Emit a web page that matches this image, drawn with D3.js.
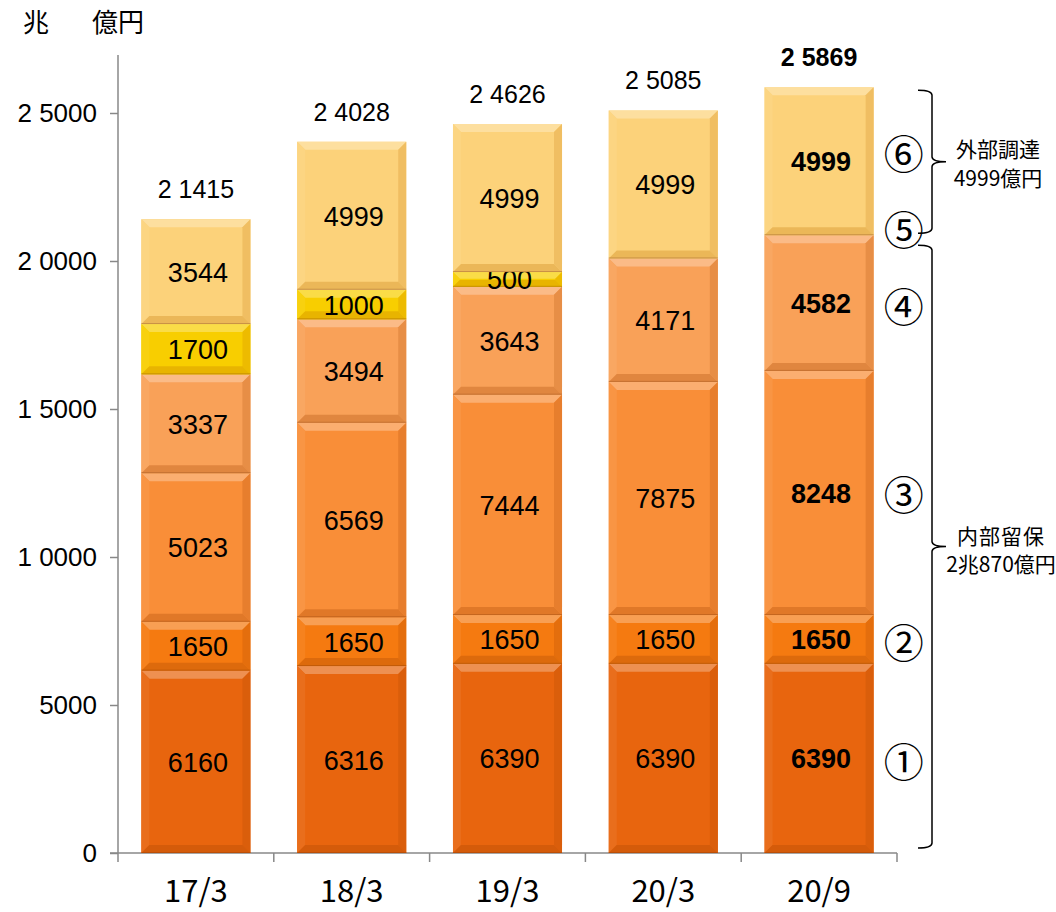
<!DOCTYPE html>
<html>
<head>
<meta charset="utf-8">
<script src="https://cdn.jsdelivr.net/npm/d3@7"></script>
<style>
  html, body { margin: 0; padding: 0; background: #fff; }
  svg { display: block; }
</style>
</head>
<body>
<svg id="chart" width="1056" height="912"></svg>
<script>
// Periods on the x axis
const categories = ["17/3", "18/3", "19/3", "20/3", "20/9"];
// Stacked components (億円), bottom to top: ① … ⑥
const s1 = [6160, 6316, 6390, 6390, 6390];
const s2 = [1650, 1650, 1650, 1650, 1650];
const s3 = [5023, 6569, 7444, 7875, 8248];
const s4 = [3337, 3494, 3643, 4171, 4582];
const s5 = [1700, 1000, 500, 0, 0];
const s6 = [3544, 4999, 4999, 4999, 4999];
// Stated totals above each column
const totals = [21415, 24028, 24626, 25085, 25869];
// Y axis ticks and their labels
const yTicks = [0, 5000, 10000, 15000, 20000, 25000];
const yTickLabels = ["0", "5000", "1 0000", "1 5000", "2 0000", "2 5000"];
const seriesMarks = ["①", "②", "③", "④", "⑤", "⑥"];
const seriesColors = ["#E8650E", "#F57A10", "#F98E38", "#F9A158", "#F8CE00", "#FCD27A"];

const series = [s1, s2, s3, s4, s5, s6];
const rows = categories.map((c, i) => {
  const r = { cat: c };
  series.forEach((s, k) => { r["k" + k] = s[i]; });
  return r;
});
const keys = series.map((s, k) => "k" + k);
const stacked = d3.stack().keys(keys)(rows);

const svg = d3.select("#chart");
const x = d3.scaleBand().domain(categories).range([118, 897]).paddingInner(0.3).paddingOuter(0.15);
const y = d3.scaleLinear().domain([0, 25000]).range([853, 113]);

const numFont = "'Liberation Sans', Arial, sans-serif";
const jpFont = "'Noto Sans CJK JP', sans-serif";
const fmtMan = v => {
  const hi = Math.floor(v / 10000), lo = v % 10000;
  return hi > 0 ? hi + " " + String(lo).padStart(4, "0") : String(lo);
};

// Y axis
const yAxis = svg.append("g")
  .attr("transform", "translate(118,0)")
  .call(d3.axisLeft(y).tickValues(yTicks).tickSize(8).tickPadding(13)
    .tickFormat((d, i) => yTickLabels[i]));
yAxis.select(".domain").attr("stroke", "#888").attr("stroke-width", 1.5).attr("d", "M0,55V853");
yAxis.selectAll(".tick line").attr("stroke", "#888").attr("stroke-width", 1.5);
yAxis.selectAll(".tick text").attr("font-family", numFont).attr("font-size", 26).attr("fill", "#000");

// X axis with boundary ticks between bands
const xAxis = svg.append("g").attr("transform", "translate(0,853)");
xAxis.append("line").attr("x1", 110).attr("x2", 897).attr("y1", 0).attr("y2", 0)
  .attr("stroke", "#888").attr("stroke-width", 1.5);
const bounds = categories.map(c => x(c) - x.step() * x.paddingInner() / 2);
bounds[0] = 118;
bounds.push(897);
xAxis.selectAll("line.b").data(bounds).join("line").attr("class", "b")
  .attr("x1", d => d).attr("x2", d => d).attr("y1", 0).attr("y2", 9)
  .attr("stroke", "#888").attr("stroke-width", 1.5);
xAxis.selectAll("text").data(categories).join("text")
  .attr("x", d => x(d) + x.bandwidth() / 2).attr("y", 49)
  .attr("text-anchor", "middle").attr("font-family", jpFont).attr("font-size", 31)
  .text(d => d);

// Beveled stacked segments
const layer = svg.append("g");
stacked.forEach((ser, k) => {
  const base = d3.color(seriesColors[k]);
  const shade = k >= 4 ? "#c07000" : "#a04000";
  ser.forEach((d, i) => {
    if (d[1] - d[0] <= 0) return;
    const x0 = x(categories[i]), x1 = x0 + x.bandwidth();
    const yt = y(d[1]), yb = y(d[0]);
    const h = yb - yt;
    const b = Math.min(8, h / 2.2);
    const g = layer.append("g");
    g.append("rect").attr("x", x0).attr("y", yt).attr("width", x1 - x0).attr("height", h)
      .attr("fill", base.formatHex());
    const poly = (pts, fill) => g.append("polygon")
      .attr("points", pts.map(p => p.join(",")).join(" ")).attr("fill", fill);
    poly([[x0, yt], [x1, yt], [x1 - b, yt + b], [x0 + b, yt + b]], d3.interpolateRgb(base, "#fff")(0.28));
    poly([[x0, yt], [x0 + b, yt + b], [x0 + b, yb - b], [x0, yb]], d3.interpolateRgb(base, "#fff")(0.06));
    poly([[x1, yt], [x1 - b, yt + b], [x1 - b, yb - b], [x1, yb]], d3.interpolateRgb(base, shade)(0.2));
    poly([[x0, yb], [x0 + b, yb - b], [x1 - b, yb - b], [x1, yb]], d3.interpolateRgb(base, shade)(0.28));
    g.append("line").attr("x1", x0).attr("x2", x1).attr("y1", yb - 0.5).attr("y2", yb - 0.5)
      .attr("stroke", d3.interpolateRgb(base, "#7a3000")(0.5)).attr("stroke-width", 1).attr("opacity", 0.7);
    g.append("text")
      .attr("x", (x0 + x1) / 2 + 2).attr("y", (yt + yb) / 2 + 10)
      .attr("text-anchor", "middle").attr("font-family", numFont).attr("font-size", 27)
      .attr("font-weight", i === categories.length - 1 ? "bold" : "normal")
      .text(d.data[keys[k]]);
  });
});

// Totals above columns
svg.append("g").selectAll("text").data(totals).join("text")
  .attr("x", (d, i) => x(categories[i]) + x.bandwidth() / 2)
  .attr("y", d => y(d) - 21)
  .attr("text-anchor", "middle").attr("font-family", numFont).attr("font-size", 25)
  .attr("font-weight", (d, i) => i === categories.length - 1 ? "bold" : "normal")
  .text(d => fmtMan(d));

// Unit caption
svg.append("text").attr("x", 23).attr("y", 32).attr("font-family", jpFont).attr("font-size", 26).text("兆");
svg.append("text").attr("x", 92).attr("y", 32).attr("font-family", jpFont).attr("font-size", 26).text("億円");

// Series markers beside the last column
const last = categories.length - 1;
const markX = x(categories[last]) + x.bandwidth() + 30;
const markOffsets = [2, 2, 0, 2, -7, -9];
const markY = stacked.map((ser, k) => {
  const d = ser[last];
  return k === 4 ? y(d[0]) + markOffsets[k] : y((d[0] + d[1]) / 2) + markOffsets[k];
});
svg.append("g").selectAll("text").data(seriesMarks).join("text")
  .attr("x", markX).attr("y", (d, k) => markY[k])
  .attr("dominant-baseline", "central")
  .attr("text-anchor", "middle").attr("font-family", jpFont).attr("font-size", 40)
  .text(d => d);

// Braces grouping external funding and retained earnings
const internalTop = stacked[3][last][1];
const externalTop = stacked[5][last][1];
function brace(top, bot) {
  const mid = (top + bot) / 2;
  return `M918,${top} Q932,${top} 932,${top + 5} L932,${mid - 5} Q932,${mid} 946,${mid}` +
    ` Q932,${mid} 932,${mid + 5} L932,${bot - 5} Q932,${bot} 918,${bot}`;
}
const braceG = svg.append("g").attr("fill", "none").attr("stroke", "#000").attr("stroke-width", 1.5);
braceG.append("path").attr("d", brace(y(externalTop) + 3, y(internalTop) - 2));
braceG.append("path").attr("d", brace(y(internalTop) + 10, y(0) - 5));

const upperMid = (y(externalTop) + 3 + y(internalTop) - 2) / 2;
const lowerMid = (y(internalTop) + 10 + y(0) - 5) / 2;
svg.append("text").attr("x", 998).attr("y", upperMid - 5).attr("text-anchor", "middle")
  .attr("font-family", jpFont).attr("font-size", 21).text("外部調達");
svg.append("text").attr("x", 998).attr("y", upperMid + 24).attr("text-anchor", "middle")
  .attr("font-family", jpFont).attr("font-size", 21).text("4999億円");
svg.append("text").attr("x", 1001).attr("y", lowerMid - 3).attr("text-anchor", "middle")
  .attr("font-family", jpFont).attr("font-size", 21).attr("letter-spacing", 1).text("内部留保");
svg.append("text").attr("x", 1001).attr("y", lowerMid + 25).attr("text-anchor", "middle")
  .attr("font-family", jpFont).attr("font-size", 21).text("2兆870億円");
</script>
</body>
</html>
